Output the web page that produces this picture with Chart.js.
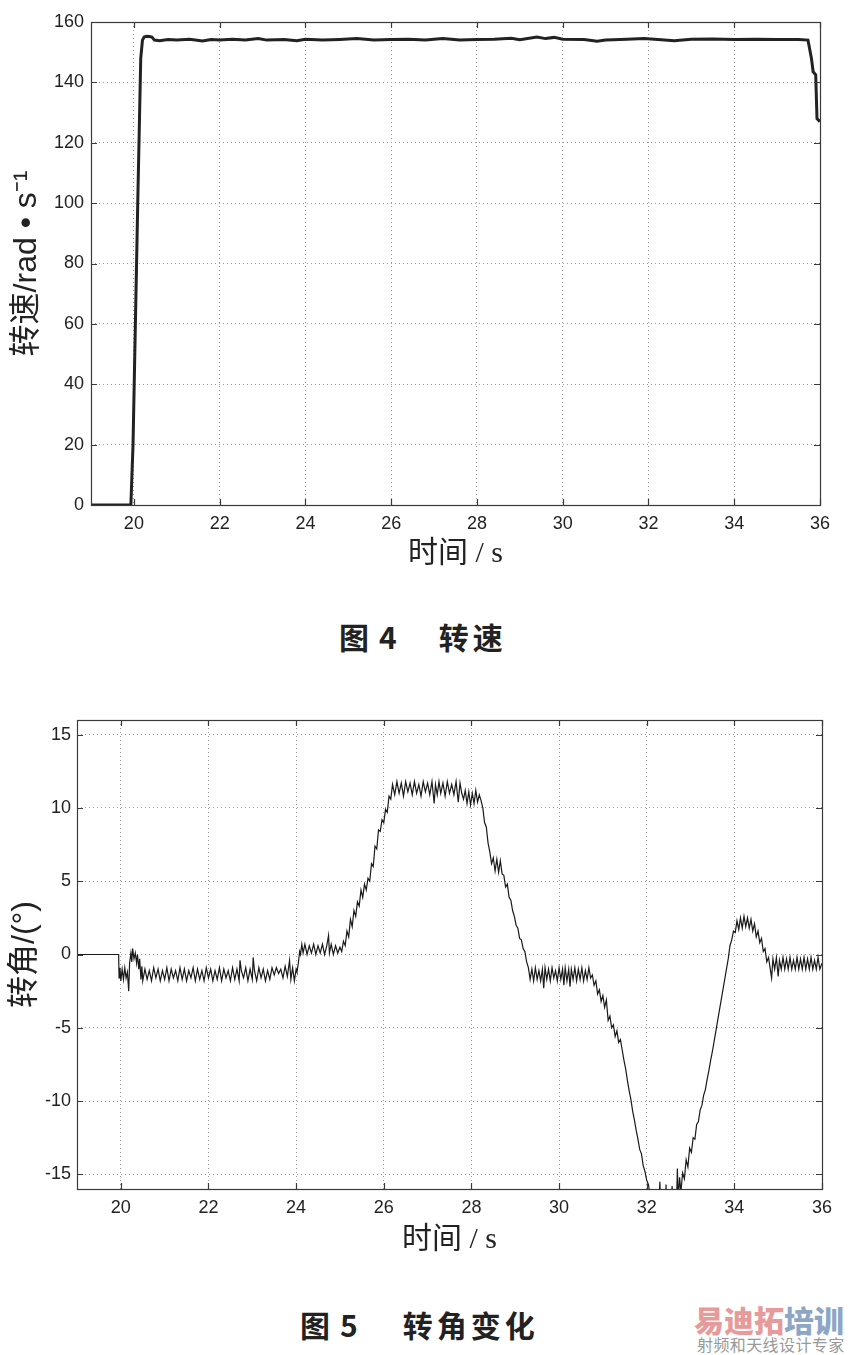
<!DOCTYPE html>
<html>
<head>
<meta charset="utf-8">
<script src="https://cdn.jsdelivr.net/npm/chart.js@4.4.1/dist/chart.umd.min.js"></script>
<style>
  html,body{margin:0;padding:0;background:#fff;}
  body{width:850px;height:1355px;position:relative;overflow:hidden;}
  canvas{position:absolute;left:0;}
  .cap{position:absolute;white-space:nowrap;font-family:"Noto Sans CJK SC",sans-serif;font-weight:bold;font-size:30px;line-height:36px;color:#222;}
  .cap span{display:inline-block;}
  .wm1{position:absolute;left:694px;top:1302px;white-space:nowrap;font-family:"Noto Sans CJK SC",sans-serif;font-weight:900;font-size:30px;line-height:34px;}
  .wm2{position:absolute;left:697px;top:1335px;white-space:nowrap;font-family:"Noto Sans CJK SC",sans-serif;font-size:16px;color:#999;line-height:18px;letter-spacing:0.4px;}
</style>
</head>
<body>
<canvas id="c1" width="850" height="600" style="top:0px"></canvas>
<canvas id="c2" width="850" height="600" style="top:690px"></canvas>
<div class="cap" style="left:339px;top:618px"><span>图</span><span style="margin-left:10px">4</span><span style="margin-left:42px;letter-spacing:4px">转速</span></div>
<div class="cap" style="left:300px;top:1306px"><span>图</span><span style="margin-left:10px">5</span><span style="margin-left:45px;letter-spacing:4px">转角变化</span></div>
<div class="wm1"><span style="color:#e79a9a">易迪拓</span><span style="color:#8ea6c6">培训</span></div>
<div class="wm2">射频和天线设计专家</div>
<script>
// ---------- data ----------
const xTicks = [20, 22, 24, 26, 28, 30, 32, 34, 36];
const speedTicks = [0, 20, 40, 60, 80, 100, 120, 140, 160];
const angleTicks = [-15, -10, -5, 0, 5, 10, 15];

// 转速 (rad/s) vs 时间 (s)
const speedSamples = [
  [19,0],[19.93,0],[19.98,20],[20.09,100],[20.16,148],[20.2,154],[20.24,155],[20.3,155.3],[20.36,155.2],
  [20.42,155],[20.48,154],[20.6,153.8],[20.8,154.2],[21.0,154],[21.3,154.3],[21.6,153.7],[21.8,154.2],
  [22.0,154],[22.3,154.3],[22.6,154],[22.9,154.5],[23.1,154],[23.5,154.2],[23.8,153.8],[24.0,154.3],
  [24.4,154],[24.8,154.2],[25.2,154.5],[25.6,154],[26.0,154.2],[26.4,154.3],[26.8,154],[27.2,154.5],
  [27.6,154],[28.0,154.2],[28.4,154.3],[28.8,154.6],[29.0,154.1],[29.4,155],[29.6,154.5],[29.8,154.9],
  [30.0,154.3],[30.5,154.2],[30.8,153.6],[31.0,154],[31.5,154.3],[31.9,154.5],[32.3,154.1],[32.6,153.8],
  [33.0,154.3],[33.5,154.4],[34.0,154.2],[34.5,154.3],[35.0,154.2],[35.5,154.2],[35.72,154],[35.8,148],
  [35.84,143.5],[35.9,142.5],[35.93,128],[36,127]
];

// 转角 (°) vs 时间 (s)
const angleSamples = [
  [19.00,0],[19.95,0],
  [19.96,-1.6],[19.98,-0.9],[20.00,-1.8],[20.03,-1.0],[20.06,-1.7],[20.09,-0.9],[20.12,-1.6],[20.15,-1.2],
  [20.18,-2.5],[20.20,-0.6],[20.23,0.1],[20.25,-0.5],[20.27,0.4],[20.30,-0.3],[20.33,0.1],[20.36,-0.6],
  [20.38,0.0],[20.41,-1.0],[20.43,-0.3],[20.46,-1.7],[20.48,-0.8],[20.50,-1.8],
  [20.55,-1.0],[20.60,-1.7],[20.65,-1.1],[20.70,-1.8],[20.75,-0.9],[20.80,-1.6],[20.85,-1.0],[20.90,-1.8],
  [20.95,-1.1],[21.00,-1.7],[21.05,-0.9],[21.10,-1.8],[21.15,-1.0],[21.20,-1.6],[21.25,-1.1],[21.30,-1.8],
  [21.35,-0.9],[21.40,-1.7],[21.45,-1.0],[21.50,-1.8],[21.55,-1.1],[21.60,-1.6],[21.65,-0.9],[21.70,-1.8],
  [21.75,-1.0],[21.80,-1.7],[21.85,-1.1],[21.90,-1.8],[21.95,-0.9],[22.00,-1.6],[22.05,-1.0],[22.10,-1.8],
  [22.15,-1.1],[22.20,-1.7],[22.25,-0.9],[22.30,-1.8],[22.35,-1.0],[22.40,-1.6],[22.45,-1.1],[22.50,-1.8],
  [22.55,-0.9],[22.60,-1.7],[22.65,-1.0],[22.70,-1.8],[22.72,-0.4],[22.75,-1.1],[22.80,-1.6],[22.85,-0.9],
  [22.90,-1.8],[22.95,-1.0],[23.00,-1.7],[23.02,-0.2],[23.05,-1.1],[23.10,-1.8],[23.15,-0.9],[23.20,-1.6],
  [23.25,-1.0],[23.30,-1.8],[23.35,-1.1],[23.40,-1.7],[23.45,-0.9],[23.50,-1.4],[23.55,-0.9],[23.60,-1.3],
  [23.65,-1.0],[23.70,-1.6],[23.75,-0.8],[23.80,-1.5],[23.85,-0.4],[23.88,-1.7],[23.92,-0.9],[23.96,-1.8],
  [24.00,-1.0],
  [24.02,-1.2],[24.05,-0.6],[24.08,0.2],[24.10,0.0],[24.13,0.7],[24.16,0.1],[24.20,0.7],[24.25,0.0],
  [24.30,0.6],[24.35,0.1],[24.40,0.7],[24.45,0.0],[24.50,0.6],[24.55,0.1],[24.60,0.7],[24.65,0.0],
  [24.70,0.6],[24.74,1.3],[24.76,0.1],[24.80,0.7],[24.85,0.0],[24.90,0.6],[24.95,0.1],[25.00,0.5],
  [25.04,0.2],[25.08,0.9],[25.12,0.6],[25.16,1.6],[25.20,1.2],[25.24,2.4],[25.28,1.9],[25.32,3.0],
  [25.36,2.6],[25.40,3.6],[25.44,3.3],[25.48,4.4],[25.52,3.9],[25.56,4.8],[25.60,4.4],[25.64,5.2],
  [25.68,5.0],[25.72,6.2],[25.76,6.0],[25.80,7.4],[25.84,7.2],[25.88,8.5],[25.92,8.4],[25.96,9.2],
  [26.00,9.0],[26.04,9.9],[26.08,9.7],[26.12,10.8],[26.16,10.6],[26.20,11.6],
  [26.25,10.9],[26.30,11.8],[26.35,11.0],[26.40,11.7],[26.45,10.8],[26.50,11.8],[26.55,11.1],[26.60,11.7],
  [26.65,10.9],[26.70,11.8],[26.75,11.0],[26.80,11.6],[26.85,10.8],[26.90,11.8],[26.95,11.1],[27.00,11.7],
  [27.05,10.9],[27.10,11.8],[27.15,10.3],[27.18,11.6],[27.22,10.9],[27.26,11.8],[27.30,11.0],[27.35,11.7],
  [27.40,10.8],[27.45,11.8],[27.50,11.0],[27.55,11.6],[27.60,10.9],[27.65,11.8],[27.70,10.4],[27.74,11.7],
  [27.78,11.0],
  [27.82,10.6],[27.86,11.2],[27.90,10.3],[27.94,11.1],[27.98,10.2],[28.02,11.0],[28.06,10.3],[28.10,11.2],
  [28.14,10.4],[28.18,10.9],[28.22,10.5],
  [28.26,10.0],[28.30,9.0],[28.34,8.7],[28.38,7.6],[28.42,7.0],[28.46,6.2],[28.50,6.6],[28.54,5.7],
  [28.58,6.5],[28.62,5.6],[28.66,6.4],[28.70,5.5],[28.74,5.4],[28.78,4.6],[28.82,4.8],[28.86,3.9],
  [28.90,3.7],[28.94,3.0],[28.98,2.6],[29.02,2.0],[29.06,1.8],[29.10,1.1],[29.14,1.0],[29.18,0.4],
  [29.22,0.2],[29.26,-0.5],[29.30,-0.9],
  [29.34,-1.7],[29.38,-1.0],[29.42,-1.8],[29.46,-0.9],[29.50,-1.7],[29.54,-1.1],[29.58,-1.8],[29.62,-1.0],
  [29.65,-2.3],[29.68,-0.9],[29.72,-1.7],[29.76,-1.0],[29.80,-1.8],[29.84,-0.9],[29.88,-1.6],[29.92,-1.1],
  [29.96,-1.8],[30.00,-0.9],[30.04,-1.7],[30.08,-1.0],[30.11,-2.1],[30.14,-0.9],[30.18,-1.8],[30.22,-1.0],
  [30.25,-2.2],[30.28,-1.0],[30.32,-1.7],[30.36,-0.9],[30.40,-1.8],[30.44,-1.0],[30.48,-1.7],[30.52,-0.9],
  [30.56,-1.8],[30.60,-1.1],[30.64,-1.7],[30.68,-0.9],[30.72,-1.6],
  [30.76,-1.4],[30.80,-2.1],[30.84,-1.8],[30.88,-2.7],[30.92,-2.4],[30.96,-3.2],[31.00,-2.8],[31.04,-3.6],
  [31.08,-3.1],[31.12,-4.5],[31.16,-4.2],[31.20,-5.0],[31.24,-4.8],[31.28,-5.6],[31.32,-5.2],[31.36,-6.0],
  [31.40,-5.8],[31.44,-6.5],[31.48,-7.2],[31.52,-7.8],[31.56,-8.6],[31.60,-9.3],[31.64,-9.9],[31.68,-10.7],
  [31.72,-11.3],[31.76,-12.0],[31.80,-12.6],[31.84,-13.3],[31.88,-13.6],[31.92,-14.4],[31.96,-14.8],
  [32.00,-15.4],[32.04,-15.7],[32.08,-16.5],
  [32.15,-17],[32.28,-17],[32.30,-15.5],[32.32,-17],[32.42,-17],[32.44,-15.7],[32.46,-17],[32.56,-17],
  [32.58,-15.8],[32.60,-17],[32.68,-17],[32.70,-14.6],[32.72,-16.8],[32.75,-15.2],[32.78,-16.2],
  [32.82,-14.9],[32.86,-15.3],[32.90,-14.0],[32.94,-14.5],[32.98,-13.2],[33.02,-13.5],[33.06,-12.5],
  [33.10,-12.6],[33.14,-11.6],[33.18,-11.4],[33.22,-10.6],[33.26,-10.3],[33.30,-9.6],[33.34,-9.2],
  [33.38,-8.5],[33.42,-7.9],[33.46,-7.2],[33.50,-6.6],[33.54,-5.9],[33.58,-5.2],[33.62,-4.5],[33.66,-3.8],
  [33.70,-3.1],[33.74,-2.4],[33.78,-1.7],[33.82,-1.0],[33.86,-0.3],[33.90,0.6],[33.94,1.0],[33.98,1.6],
  [34.02,1.5],
  [34.06,2.3],[34.10,1.7],[34.14,2.5],[34.18,1.8],[34.22,2.6],[34.26,1.9],[34.30,2.5],[34.34,1.8],
  [34.38,2.4],[34.42,1.6],[34.46,2.1],[34.50,1.2],[34.54,1.6],
  [34.58,0.8],[34.62,1.1],[34.66,0.2],[34.70,0.4],[34.74,-0.5],[34.78,-0.2],
  [34.82,-1.0],[34.85,-1.6],[34.88,-0.3],[34.92,-1.0],[34.96,-0.2],[35.00,-1.5],[35.03,-0.4],[35.07,-1.0],
  [35.11,-0.2],[35.15,-1.0],[35.19,-0.3],[35.23,-1.0],[35.27,-0.2],[35.31,-1.0],[35.35,-0.4],[35.39,-1.0],
  [35.43,-0.2],[35.47,-1.0],[35.51,-0.3],[35.55,-1.0],[35.59,-0.2],[35.63,-1.0],[35.67,-0.3],[35.71,-1.0],
  [35.75,-0.2],[35.79,-1.0],[35.83,-0.4],[35.87,-1.0],[35.91,-0.2],[35.95,-1.0],[36.00,-0.6]
];

// ---------- helpers ----------
const TICK_FONT = {family: '"Liberation Sans", Arial, sans-serif', size: 18};
const framePlugin = {
  id: 'frame',
  afterDraw(chart) {
    const {ctx, chartArea: a, scales: {x, y}} = chart;
    ctx.save();
    ctx.setLineDash([]);
    ctx.strokeStyle = '#3a3a3a';
    ctx.lineWidth = 1.2;
    ctx.strokeRect(Math.round(a.left) + 0.5, Math.round(a.top) + 0.5, Math.round(a.width), Math.round(a.height));
    ctx.beginPath();
    const L = 6;
    x.ticks.forEach(t => {
      const px = Math.round(x.getPixelForValue(t.value)) + 0.5;
      ctx.moveTo(px, a.bottom); ctx.lineTo(px, a.bottom - L);
      ctx.moveTo(px, a.top); ctx.lineTo(px, a.top + L);
    });
    y.ticks.forEach(t => {
      const py = Math.round(y.getPixelForValue(t.value)) + 0.5;
      ctx.moveTo(a.left, py); ctx.lineTo(a.left + L, py);
      ctx.moveTo(a.right, py); ctx.lineTo(a.right - L, py);
    });
    ctx.stroke();
    ctx.restore();
  }
};

function makeChart(id, samples, opts) {
  return new Chart(document.getElementById(id), {
    type: 'line',
    data: {
      datasets: [{
        data: samples.map(p => ({x: p[0], y: p[1]})),
        borderColor: opts.lineColor,
        borderWidth: opts.lineWidth,
        pointRadius: 0,
        tension: 0,
        fill: false
      }]
    },
    options: {
      responsive: false,
      animation: false,
      devicePixelRatio: 1,
      layout: {padding: opts.padding},
      plugins: {legend: {display: false}, tooltip: {enabled: false}},
      scales: {
        x: {
          type: 'linear', min: 19, max: 36,
          afterBuildTicks: s => { s.ticks = xTicks.map(v => ({value: v})); },
          afterFit: s => { s.height = opts.xHeight; },
          grid: {color: '#9a9a9a', lineWidth: 1, drawTicks: false},
          border: {display: false, dash: [1, 3]},
          ticks: {font: TICK_FONT, color: '#222', padding: opts.xTickPad, maxRotation: 0},
          title: {display: true, text: '时间 / s', color: '#222',
                  font: {family: '"Liberation Serif", "Noto Sans CJK SC", serif', size: 30},
                  padding: {top: 0, bottom: opts.xTitlePad}}
        },
        y: {
          type: 'linear', min: opts.yMin, max: opts.yMax,
          afterBuildTicks: s => { s.ticks = opts.yTicks.map(v => ({value: v})); },
          afterFit: s => { s.width = opts.yWidth; },
          grid: {color: '#9a9a9a', lineWidth: 1, drawTicks: false},
          border: {display: false, dash: [1, 3]},
          ticks: {font: TICK_FONT, color: '#222', padding: opts.yTickPad},
          title: {display: true, text: opts.yTitle, color: '#222',
                  font: {family: '"Liberation Sans", "Noto Sans CJK SC", sans-serif', size: 32},
                  padding: {top: opts.yTitlePad, bottom: 0}}
        }
      }
    },
    plugins: [framePlugin]
  });
}

makeChart('c1', speedSamples, {
  lineColor: '#222', lineWidth: 3,
  padding: {left: 0, right: 30, top: 22, bottom: 0},
  xHeight: 95, yWidth: 91, xTickPad: 8, yTickPad: 7,
  xTitlePad: 28, yTitlePad: 8,
  yMin: 0, yMax: 160, yTicks: speedTicks,
  yTitle: '转速/rad • s⁻¹'
});

makeChart('c2', angleSamples, {
  lineColor: '#1a1a1a', lineWidth: 1.2,
  padding: {left: 0, right: 28, top: 30, bottom: 0},
  xHeight: 101, yWidth: 77, xTickPad: 8, yTickPad: 6,
  xTitlePad: 32, yTitlePad: 6,
  yMin: -16, yMax: 16, yTicks: angleTicks,
  yTitle: '转角/(°)'
});
</script>
</body>
</html>
